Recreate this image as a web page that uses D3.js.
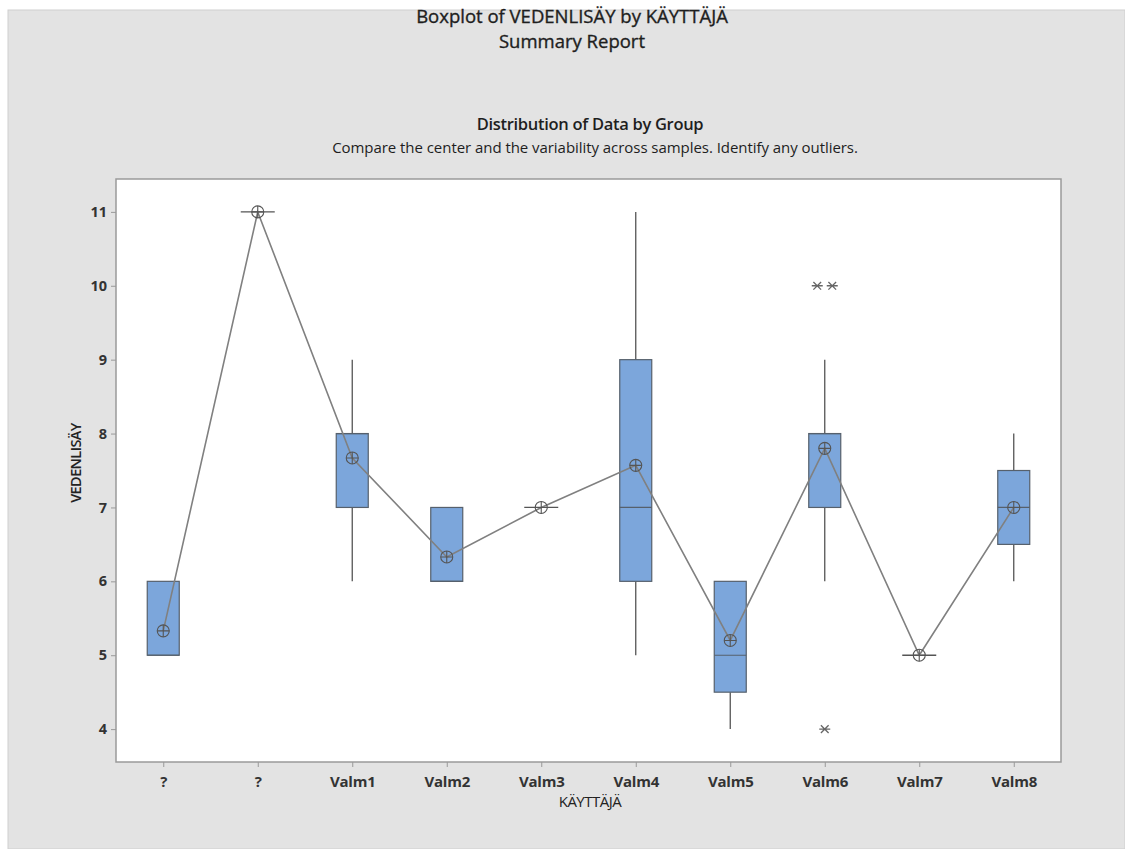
<!DOCTYPE html>
<html><head><meta charset="utf-8">
<script src="https://cdn.jsdelivr.net/npm/d3@7"></script>
<style>
html,body{margin:0;padding:0;background:#fff;}
svg{display:block;font-family:"Open Sans","Noto Sans",sans-serif;}
</style></head>
<body><svg id="c" width="1125" height="849"></svg>
<script>
// ---- data ----
const categories = ["?", "?", "Valm1", "Valm2", "Valm3", "Valm4", "Valm5", "Valm6", "Valm7", "Valm8"];
const q1Values     = [5, 11, 7, 6, 7, 6, 4.5, 7, 5, 6.5];
const medianValues = [5, 11, 8, 6, 7, 7, 5, 8, 5, 7];
const q3Values     = [6, 11, 8, 7, 7, 9, 6, 8, 5, 7.5];
const whiskerLow   = [5, 11, 6, 6, 7, 5, 4, 6, 5, 6];
const whiskerHigh  = [6, 11, 9, 7, 7, 11, 6, 9, 5, 8];
const meanValues   = [5.33, 11, 7.67, 6.33, 7, 7.57, 5.2, 7.8, 5, 7];
// outliers: [category index, value, horizontal jitter slot]
const outliers = [[7, 10, -1], [7, 10, 1], [7, 4, 0]];
const yTicks = [4, 5, 6, 7, 8, 9, 10, 11];

// ---- layout ----
const svg = d3.select("#c");
const L = 116, R = 1061, T = 179, B = 762;
const boxW = 32;

svg.append("rect").attr("x", 8).attr("y", 10).attr("width", 1117).attr("height", 839)
  .attr("fill", "#e3e3e3").attr("stroke", "#cfcfcf").attr("stroke-width", 1);

const x = d3.scalePoint().domain(d3.range(categories.length)).range([L, R]).padding(0.5);
const y = d3.scaleLinear().domain([3.555, 11.445]).range([B, T]);

svg.append("rect").attr("x", L).attr("y", T).attr("width", R - L).attr("height", B - T)
  .attr("fill", "#fff").attr("stroke", "#9a9a9a").attr("stroke-width", 1.5);

// titles
const title = svg.append("g").attr("fill", "#1e1e1e");
title.append("text").attr("x", 572).attr("y", 23).attr("text-anchor", "middle")
  .attr("font-size", 18.5).attr("stroke", "#1e1e1e").attr("stroke-width", 0.35)
  .text("Boxplot of VEDENLISÄY by KÄYTTÄJÄ");
title.append("text").attr("x", 572).attr("y", 48).attr("text-anchor", "middle")
  .attr("font-size", 18.5).attr("stroke", "#1e1e1e").attr("stroke-width", 0.35)
  .text("Summary Report");
title.append("text").attr("x", 590).attr("y", 130).attr("text-anchor", "middle")
  .attr("font-size", 16.5).attr("font-weight", 600).attr("letter-spacing", -0.3).text("Distribution of Data by Group");
title.append("text").attr("x", 595).attr("y", 152.5).attr("text-anchor", "middle")
  .attr("font-size", 15).attr("letter-spacing", -0.05).text("Compare the center and the variability across samples. Identify any outliers.");

// axes
const yAxis = d3.axisLeft(y).tickValues(yTicks).tickSize(5).tickPadding(4).tickFormat(d3.format("d"));
const gy = svg.append("g").attr("transform", `translate(${L},0)`).call(yAxis);
gy.select(".domain").remove();
gy.selectAll("line").attr("stroke", "#999");
gy.selectAll("text").attr("font-size", 14.5).attr("font-weight", "bold").attr("fill", "#333")
  .attr("font-family", "'Open Sans',sans-serif");

const xAxis = d3.axisBottom(x).tickSize(5).tickPadding(9).tickFormat(i => categories[i]);
const gx = svg.append("g").attr("transform", `translate(0,${B})`).call(xAxis);
gx.select(".domain").remove();
gx.selectAll("line").attr("stroke", "#999");
gx.selectAll("text").attr("font-size", 15).attr("font-weight", "bold").attr("fill", "#333")
  .attr("letter-spacing", -0.2).attr("font-family", "'Open Sans',sans-serif");

svg.append("text").attr("x", 590).attr("y", 807).attr("text-anchor", "middle")
  .attr("font-size", 15).attr("letter-spacing", -0.5).attr("fill", "#222").text("KÄYTTÄJÄ");
svg.append("text").attr("transform", `translate(81,463) rotate(-90)`)
  .attr("text-anchor", "middle").attr("font-size", 14.5).attr("font-weight", 600)
  .attr("letter-spacing", -0.6).attr("fill", "#222").text("VEDENLISÄY");

// boxes
const idx = d3.range(categories.length);
const g = svg.append("g");
idx.forEach(i => {
  const cx = x(i);
  const gr = g.append("g");
  if (whiskerHigh[i] > q3Values[i])
    gr.append("line").attr("x1", cx).attr("x2", cx).attr("y1", y(q3Values[i])).attr("y2", y(whiskerHigh[i]))
      .attr("stroke", "#555").attr("stroke-width", 1.3);
  if (whiskerLow[i] < q1Values[i])
    gr.append("line").attr("x1", cx).attr("x2", cx).attr("y1", y(q1Values[i])).attr("y2", y(whiskerLow[i]))
      .attr("stroke", "#555").attr("stroke-width", 1.3);
  if (q3Values[i] > q1Values[i]) {
    gr.append("rect").attr("x", cx - boxW / 2).attr("y", y(q3Values[i])).attr("width", boxW)
      .attr("height", y(q1Values[i]) - y(q3Values[i]))
      .attr("fill", "#7ca6db").attr("stroke", "#56606c").attr("stroke-width", 1.2);
    gr.append("line").attr("x1", cx - boxW / 2).attr("x2", cx + boxW / 2)
      .attr("y1", y(medianValues[i])).attr("y2", y(medianValues[i]))
      .attr("stroke", "#56606c").attr("stroke-width", 1.2);
  } else {
    gr.append("line").attr("x1", cx - 17).attr("x2", cx + 17)
      .attr("y1", y(medianValues[i])).attr("y2", y(medianValues[i]))
      .attr("stroke", "#555").attr("stroke-width", 1.3);
  }
});

// mean connect line
const line = d3.line().x((d, i) => x(i)).y(d => y(d));
svg.append("path").datum(meanValues).attr("d", line).attr("fill", "none")
  .attr("stroke", "#808080").attr("stroke-width", 1.6);

// mean symbols
const r = 6;
const ms = svg.append("g").selectAll("g").data(meanValues).join("g")
  .attr("transform", (d, i) => `translate(${x(i)},${y(d)})`);
ms.append("circle").attr("r", r).attr("fill", "none").attr("stroke", "#555").attr("stroke-width", 1.1);
ms.append("path").attr("d", `M${-r},0H${r}M0,${-r}V${r}`).attr("stroke", "#555").attr("stroke-width", 1.1);

// outliers
const star = 5.5;
svg.append("g").selectAll("path").data(outliers).join("path")
  .attr("transform", d => `translate(${x(d[0]) + d[2] * 7.5},${y(d[1])})`)
  .attr("d", `M${-star},0H${star}M${-star * 0.7},${-star * 0.7}L${star * 0.7},${star * 0.7}M${-star * 0.7},${star * 0.7}L${star * 0.7},${-star * 0.7}`)
  .attr("stroke", "#666").attr("stroke-width", 1.3);
</script></body></html>
